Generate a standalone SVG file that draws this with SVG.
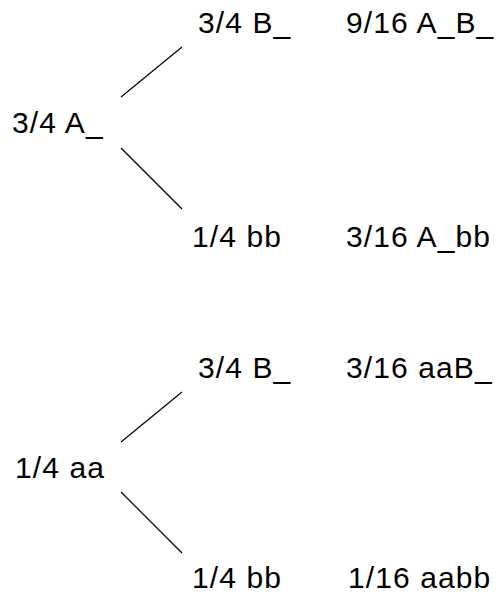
<svg xmlns="http://www.w3.org/2000/svg" width="497" height="596" viewBox="0 0 497 596">
<style>
text{font-family:"Liberation Sans",Arial,sans-serif;font-size:30px;letter-spacing:1.1px;fill:#000}
.c line{stroke:#000;stroke-width:1.2}
</style>
<rect width="497" height="596" fill="#fff"/>
<g class="c" id="connectors">
<line x1="121" y1="97" x2="182" y2="47"/>
<line x1="121" y1="148" x2="182" y2="209"/>
<line x1="121" y1="442" x2="182" y2="392"/>
<line x1="121" y1="492" x2="182" y2="553"/>
</g>
<g id="n1"><text x="12" y="133">3/4 A_</text></g>
<g id="n2"><text x="198" y="33">3/4 B_</text></g>
<g id="n3"><text x="346" y="33">9/16 A_B_</text></g>
<g id="n4"><text x="192" y="247">1/4 bb</text></g>
<g id="n5"><text x="346" y="247">3/16 A_bb</text></g>
<g id="n6"><text x="15" y="478">1/4 aa</text></g>
<g id="n7"><text x="198" y="378">3/4 B_</text></g>
<g id="n8"><text x="346" y="378">3/16 aaB_</text></g>
<g id="n9"><text x="192" y="588">1/4 bb</text></g>
<g id="n10"><text x="348" y="588">1/16 aabb</text></g>
</svg>
